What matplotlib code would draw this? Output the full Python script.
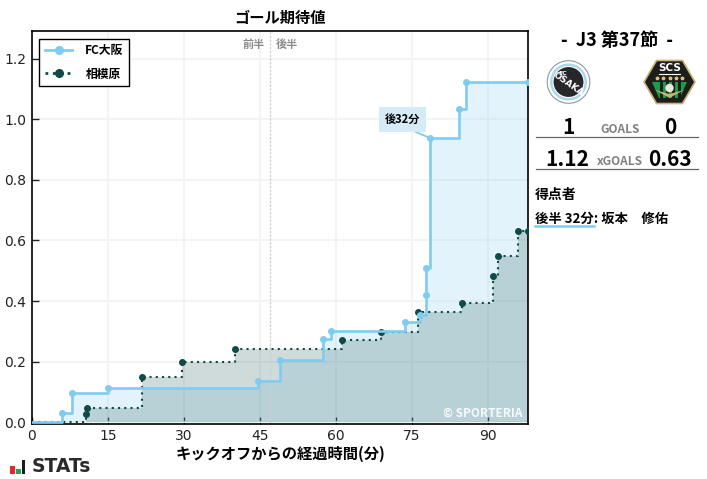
import matplotlib
matplotlib.use("Agg")
import numpy as np
import matplotlib.pyplot as plt
from matplotlib.patches import Circle, Polygon, Rectangle

plt.rcParams['font.family'] = ['Noto Sans CJK JP', 'DejaVu Sans']
plt.rcParams['axes.unicode_minus'] = False

# 期待値の推移 (分, 累積xG)
osaka_min = [0, 6, 8, 15, 44.7, 49, 57.5, 59, 73.6, 76.7, 77.9, 77.9, 78.7, 84.3, 85.7, 98]
osaka_xg = [0, 0.03, 0.097, 0.113, 0.137, 0.205, 0.275, 0.30, 0.331, 0.353, 0.42, 0.508, 0.9375, 1.033, 1.122, 1.122]
sagami_min = [0, 10.6, 10.9, 21.7, 29.7, 40.2, 61.3, 68.9, 76.2, 85, 91, 92, 96.1, 98]
sagami_xg = [0, 0.028, 0.048, 0.149, 0.2, 0.242, 0.27, 0.298, 0.365, 0.395, 0.483, 0.547, 0.63, 0.63]
x_ticks = [0, 15, 30, 45, 60, 75, 90]
y_ticks = [0.0, 0.2, 0.4, 0.6, 0.8, 1.0, 1.2]

OSAKA = '#7fccf0'
SAGAMI = '#0f4a48'
W, H = 707, 479

fig = plt.figure(figsize=(7.07, 4.79), dpi=100)
ax = fig.add_axes([32 / W, 1 - 423.5 / H, 496 / W, 392.2 / H])

ax.fill_between(osaka_min, osaka_xg, step='post', color=OSAKA, alpha=0.22, lw=0)
ax.fill_between(sagami_min, sagami_xg, step='post', color=SAGAMI, alpha=0.2, lw=0)
ax.plot(sagami_min, sagami_xg, drawstyle='steps-post', color=SAGAMI, lw=1.5, ls=(0, (1, 2)), zorder=3)
ax.plot(sagami_min[1:], sagami_xg[1:], 'o', color=SAGAMI, ms=4, zorder=3)
ax.plot(osaka_min, osaka_xg, drawstyle='steps-post', color=OSAKA, lw=1.9, zorder=4)
ax.plot(osaka_min[1:], osaka_xg[1:], 'o', color=OSAKA, ms=4, zorder=4)

# 凡例用のダミー
ax.plot([], [], '-o', color=OSAKA, lw=2, ms=5.5, label='FC大阪')
ax.plot([], [], ':o', color=SAGAMI, lw=2, ms=5.5, label='相模原')
leg = ax.legend(loc='upper left', bbox_to_anchor=(0.0, 1.0), fancybox=False, framealpha=1,
                edgecolor='black', prop={'size': 8.5, 'weight': 'bold'}, borderaxespad=0.62,
                handlelength=2.35, labelspacing=0.9, handletextpad=1.1, borderpad=0.45)
leg.get_frame().set_linewidth(1.0)

ax.set_xlim(0, 98)
ax.set_ylim(-0.004, 1.29)
ax.set_xticks(x_ticks)
ax.set_yticks(y_ticks)
ax.grid(color='#f3f3f3', lw=1.3)
ax.set_axisbelow(True)
ax.tick_params(direction='in', length=5, width=1, labelsize=10, pad=4, colors='#222222')
for lab in ax.get_xticklabels() + ax.get_yticklabels():
    lab.set_family('DejaVu Sans')
for s in ax.spines.values():
    s.set_linewidth(1.2)
ax.axvline(47, color='#cfcfcf', lw=0.9, ls=(0, (2, 1)), zorder=2)

ax.text(46, 1.245, '前半', ha='right', va='center', fontsize=8, color='#8c8c8c', weight='bold')
ax.text(48.2, 1.245, '後半', ha='left', va='center', fontsize=8, color='#8c8c8c', weight='bold')
ax.text(97, 0.03, '© SPORTERIA', ha='right', va='center', fontsize=8.5, color='white', alpha=0.9, weight='bold')
ax.annotate('後32分', xy=(78.7, 0.9375), xytext=(73.2, 0.998), ha='center', va='center',
            fontsize=8, weight='bold', color='black', zorder=6,
            bbox=dict(boxstyle='square,pad=0.55', fc='#d5ebf7', ec='none'),
            arrowprops=dict(arrowstyle='-', color=OSAKA, lw=1.3, shrinkA=0, shrinkB=0,
                            patchA=None, relpos=(0.5, 0)))

ax.set_title('ゴール期待値', fontsize=11, weight='bold', pad=6)
ax.set_xlabel('キックオフからの経過時間(分)', fontsize=11, weight='bold', labelpad=2)

# 右パネルとロゴはピクセル座標で
ov = fig.add_axes([0, 0, 1, 1], zorder=10)
ov.set_xlim(0, W)
ov.set_ylim(H, 0)
ov.axis('off')
ov.patch.set_alpha(0)

ov.text(617, 40, '-  J3 第37節  -', ha='center', va='center', fontsize=13, weight='bold')
ov.text(568, 127, '1', ha='center', va='center', fontsize=15, weight='bold')
ov.text(620, 129.5, 'GOALS', ha='center', va='center', fontsize=8.5, weight='bold', color='#808080')
ov.text(670, 127, '0', ha='center', va='center', fontsize=15, weight='bold')
ov.plot([536, 698], [137, 137], color='#666666', lw=0.9)
ov.text(567.5, 160, '1.12', ha='center', va='center', fontsize=15, weight='bold')
ov.text(620, 161.5, 'xGOALS', ha='center', va='center', fontsize=8.5, weight='bold', color='#808080')
ov.text(669.5, 160, '0.63', ha='center', va='center', fontsize=15, weight='bold')
ov.plot([536, 698], [169, 169], color='#666666', lw=0.9)
ov.text(535, 195, '得点者', ha='left', va='center', fontsize=10, weight='bold')
ov.text(535, 219, '後半 32分: 坂本\u3000修佑', ha='left', va='center', fontsize=9.6, weight='bold')
ov.plot([535, 594], [226, 226], color=OSAKA, lw=1.8)

# FC大阪のエンブレム
ov.add_patch(Circle((568.5, 82), 21.3, fc='white', ec='#8a9aa2', lw=0.8))
ov.add_patch(Circle((568.5, 82), 18.5, fc='#a9d8ec', ec='none'))
ov.add_patch(Circle((568.5, 82), 15.5, fc='#27272a', ec='white', lw=0.8))
ov.text(563, 73, 'FC', ha='center', va='center', fontsize=4.5, color='white', weight='bold',
        family='DejaVu Sans')
ov.text(568.5, 84, 'OSAKA', ha='center', va='center', fontsize=6.5, color='white', weight='bold',
        rotation=-35, family='DejaVu Sans')

# 相模原のエンブレム
ov.add_patch(Polygon([(644, 82), (656.5, 60.5), (682.5, 60.5), (695, 82), (682.5, 103.5), (656.5, 103.5)],
                     fc='#1d1d1b', ec='#c8b273', lw=1.2))
ov.add_patch(Polygon([(652, 82), (687, 82), (680, 98), (659, 98)], fc='#1f9a48', ec='none'))
for sx in [660, 666, 672, 678]:
    ov.add_patch(Rectangle((sx, 82), 2.5, 16, fc='#1d1d1b', ec='none'))
ov.text(669.5, 68, 'SCS', ha='center', va='center', fontsize=7.5, color='white', weight='bold',
        family='DejaVu Sans')
ov.plot([659, 680], [74, 74], color='white', lw=0.8)
ov.plot([657, 663, 669.5, 676, 682], [78] * 5, '*', color='#d8c27a', ms=2.5)
ov.add_patch(Circle((669.5, 88), 4.2, fc='#e9e9e2', ec='none'))
ov.add_patch(Polygon([(655, 90), (669.5, 98), (684, 90), (669.5, 94)], fc='#c8b273', ec='none'))

# STATSロゴ
ov.add_patch(Rectangle((10, 466), 5, 7.5, fc='#e8262a', ec='none'))
ov.add_patch(Rectangle((16, 468.5), 4.5, 5, fc='#1fa85a', ec='none'))
ov.add_patch(Rectangle((21.5, 459.5), 3.5, 14, fc='#1c1c1c', ec='none'))
ov.text(32, 467, 'STATs', ha='left', va='center', fontsize=13.5, weight='bold',
        color='#2a2a2a', family='DejaVu Sans')

fig.savefig('out.png', dpi=100)
